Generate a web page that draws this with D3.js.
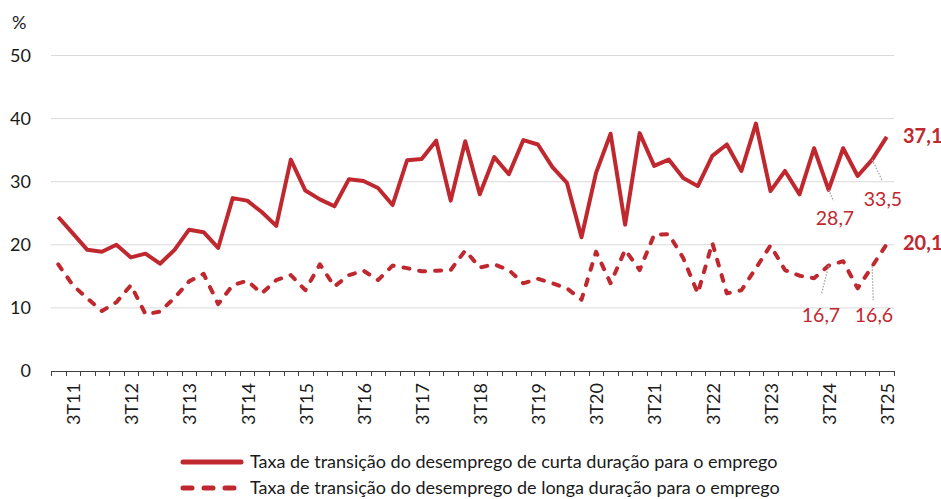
<!DOCTYPE html>
<html>
<head>
<meta charset="utf-8">
<script src="https://cdn.jsdelivr.net/npm/d3@7"></script>
<style>
  body { margin: 0; background: #fff; }
  text { font-family: Lato, "Open Sans", sans-serif; }
</style>
</head>
<body>
<div id="chart"></div>
<script>
// quarters 2T11 .. 3T25
var years = ["11","12","13","14","15","16","17","18","19","20","21","22","23","24","25"];
var quarters = ["1T","2T","3T","4T"];
var categories = [];
years.forEach(function(y) {
  quarters.forEach(function(q) { categories.push(q + y); });
});
categories = categories.slice(1, 59); // 2T11 -> 3T25

var tickLabels = ["3T11","3T12","3T13","3T14","3T15","3T16","3T17","3T18","3T19","3T20","3T21","3T22","3T23","3T24","3T25"];

// curta duração (solid)
var shortTerm = [24.4,21.8,19.2,18.9,20.0,18.0,18.6,17.0,19.2,22.4,
                 22.0,19.5,27.4,27.0,25.2,23.0,33.5,28.6,27.2,26.1,
                 30.4,30.1,29.0,26.3,33.4,33.6,36.5,27.0,36.4,28.0,
                 33.9,31.2,36.6,35.9,32.3,29.8,21.2,31.4,37.6,23.2,
                 37.7,32.5,33.5,30.6,29.3,34.1,35.9,31.7,39.2,28.5,
                 31.7,28.0,35.3,28.7,35.3,30.9,33.5,37.1];
// longa duração (dashed)
var longTerm = [16.9,13.6,11.5,9.5,10.9,13.6,9.0,9.4,11.6,14.2,
                15.4,10.6,13.6,14.3,12.3,14.4,15.2,12.8,16.9,13.4,
                15.2,15.9,14.4,16.7,16.3,15.8,15.9,16.0,19.1,16.4,
                16.9,16.0,13.9,14.6,13.9,13.1,11.3,18.9,13.9,19.2,
                16.0,21.6,21.7,17.9,12.3,20.3,12.3,12.8,16.3,19.9,
                16.0,15.1,14.7,16.7,17.4,13.1,16.6,20.1];

var yTicks = [0,10,20,30,40,50];
var seriesNames = ["Taxa de transição do desemprego de curta duração para o emprego",
                   "Taxa de transição do desemprego de longa duração para o emprego"];

var width = 941, height = 499;
var red = "#c0282f";

var svg = d3.select("#chart").append("svg")
  .attr("width", width)
  .attr("height", height);

var x = d3.scaleBand().domain(categories).range([51, 894]);
var y = d3.scaleLinear().domain([0, 50]).range([371, 55.5]);

// gridlines
svg.append("g")
  .selectAll("line")
  .data(yTicks.slice(1))
  .enter().append("line")
  .attr("x1", 51).attr("x2", 894)
  .attr("y1", function(d) { return y(d); })
  .attr("y2", function(d) { return y(d); })
  .style("stroke", "#d9d9d9")
  .style("stroke-width", 1);

// y labels
svg.append("g")
  .selectAll("text")
  .data(yTicks)
  .enter().append("text")
  .attr("x", 31)
  .attr("y", function(d) { return y(d); })
  .attr("dy", "0.35em")
  .attr("text-anchor", "end")
  .style("font-size", "18px")
  .style("fill", "#1a1a1a")
  .text(function(d) { return d; });

svg.append("text")
  .attr("x", 12).attr("y", 29)
  .style("font-size", "18px")
  .style("fill", "#1a1a1a")
  .text("%");

// x axis line + boundary ticks
var axisG = svg.append("g");
axisG.append("line")
  .attr("x1", 51).attr("x2", 894)
  .attr("y1", y(0) + 0.5).attr("y2", y(0) + 0.5)
  .style("stroke", "#404040");
var bounds = categories.map(function(c) { return x(c); }).concat([894]);
axisG.selectAll(".tk").data(bounds).enter().append("line")
  .attr("class", "tk")
  .attr("x1", function(d) { return Math.round(d) + 0.5; })
  .attr("x2", function(d) { return Math.round(d) + 0.5; })
  .attr("y1", y(0)).attr("y2", y(0) + 5)
  .style("stroke", "#404040");

axisG.selectAll(".xl").data(tickLabels).enter().append("text")
  .attr("class", "xl")
  .attr("transform", function(d) {
    return "translate(" + (x(d) + x.bandwidth() / 2 + 1) + "," + (y(0) + 12) + ") rotate(-90)";
  })
  .attr("text-anchor", "end")
  .attr("dy", "0.35em")
  .style("font-size", "18px")
  .style("fill", "#1a1a1a")
  .text(function(d) { return d; });

var line = d3.line()
  .x(function(d, i) { return x(categories[i]) + x.bandwidth() / 2; })
  .y(function(d) { return y(d); });

svg.append("path")
  .datum(longTerm)
  .attr("d", line)
  .style("fill", "none")
  .style("stroke", red)
  .style("stroke-width", 4)
  .style("stroke-linecap", "round")
  .style("stroke-linejoin", "round")
  .style("stroke-dasharray", "6,10");

svg.append("path")
  .datum(shortTerm)
  .attr("d", line)
  .style("fill", "none")
  .style("stroke", red)
  .style("stroke-width", 4)
  .style("stroke-linejoin", "round");

// data labels
function cx(i) { return x(categories[i]) + x.bandwidth() / 2; }
var n = categories.length;
var fmt = function(v) { return d3.format(".1f")(v).replace(".", ","); };

var labels = [
  {s: shortTerm, i: n - 5, dx: 5, dy: 11, tx: 835, ty: 218},
  {s: shortTerm, i: n - 2, dx: 10, dy: 21, tx: 883, ty: 199},
  {s: longTerm, i: n - 5, dx: -7, dy: 28, tx: 821, ty: 315},
  {s: longTerm, i: n - 2, dx: 1, dy: 34, tx: 874, ty: 315}
];
labels.forEach(function(l) {
  var px = cx(l.i), py = y(l.s[l.i]);
  svg.append("line")
    .attr("x1", px).attr("y1", py)
    .attr("x2", px + l.dx).attr("y2", py + l.dy)
    .style("stroke", "#a6a6a6")
    .style("stroke-width", 1.3)
    .style("stroke-dasharray", "1.5,1.5");
  svg.append("text")
    .attr("x", l.tx).attr("y", l.ty)
    .attr("dy", "0.35em")
    .attr("text-anchor", "middle")
    .style("font-size", "19.5px")
    .style("fill", red)
    .text(fmt(l.s[l.i]));
});

[shortTerm, longTerm].forEach(function(s) {
  svg.append("text")
    .attr("x", 903).attr("y", y(s[n - 1]) - 1)
    .attr("dy", "0.35em")
    .style("font-size", "20px")
    .style("font-weight", "bold")
    .style("fill", red)
    .text(fmt(s[n - 1]));
});

// legend
var legend = svg.append("g");
seriesNames.forEach(function(name, k) {
  var ly = 462 + k * 26;
  legend.append("line")
    .attr("x1", 183).attr("x2", 241)
    .attr("y1", ly).attr("y2", ly)
    .style("stroke", red)
    .style("stroke-width", 5)
    .style("stroke-linecap", "round")
    .style("stroke-dasharray", k === 0 ? null : "9,12");
  legend.append("text")
    .attr("x", 250).attr("y", ly)
    .attr("dy", "0.35em")
    .style("font-size", "18px")
    .style("fill", "#1a1a1a")
    .text(name);
});
</script>
</body>
</html>
